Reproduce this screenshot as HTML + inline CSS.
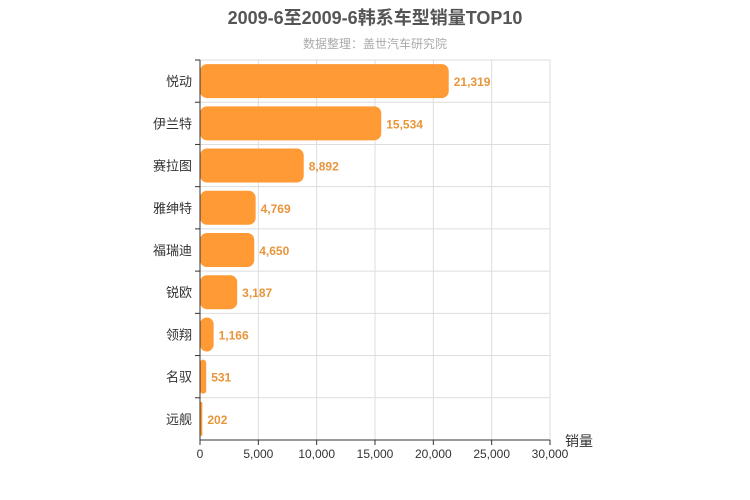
<!DOCTYPE html>
<html><head><meta charset="utf-8"><style>
body{margin:0;background:#fff;}
svg{display:block;font-family:"Liberation Sans","Noto Sans CJK SC",sans-serif;}
</style></head><body>
<svg id="chart" width="750" height="500">
<text x="375" y="24" text-anchor="middle" font-size="18" font-weight="bold" fill="#555">2009-6至2009-6韩系车型销量TOP10</text>
<text x="375" y="48" text-anchor="middle" font-size="12" fill="#aaa">数据整理：盖世汽车研究院</text>
<g id="grid"></g><g id="bars"></g><g id="axes"></g>
<text x="565" y="446" font-size="14" fill="#333">销量</text>
</svg>
<script>
const categories=["悦动","伊兰特","赛拉图","雅绅特","福瑞迪","锐欧","领翔","名驭","远舰"];
const values=[21319,15534,8892,4769,4650,3187,1166,531,202];
const ticks=[0,5000,10000,15000,20000,25000,30000];
const NS="http://www.w3.org/2000/svg";
const L=200,R=550,T=60,B=440,maxV=30000;
const x=v=>L+v/maxV*(R-L);
const band=(B-T)/categories.length;
const y=i=>T+i*band;
function mk(tag,attrs,parent,text){const e=document.createElementNS(NS,tag);for(const k in attrs)e.setAttribute(k,attrs[k]);if(text!==undefined)e.textContent=text;document.getElementById(parent).appendChild(e);return e;}
ticks.forEach(t=>{
 const g=mk('line',{x1:x(t),x2:x(t),y1:T,y2:B,stroke:'#ddd'},'grid');
 
 
 const tk=mk('line',{x1:x(t),x2:x(t),y1:B,y2:B+5,stroke:'#333'},'axes');
 
 
 const lb=mk('text',{x:x(t),y:B+18,'text-anchor':'middle','font-size':12,fill:'#333'},'axes',t.toLocaleString('en-US'));
 
 
});
for(let i=0;i<=categories.length;i++){
 const g=mk('line',{x1:L,x2:R,y1:y(i),y2:y(i),stroke:'#ddd'},'grid');
 
 
}
categories.forEach((c,i)=>{
 const v=values[i],yy=y(i)+band/2;
 const r=mk('rect',{x:L,y:yy-17,width:Math.max(x(v)-L,1),height:34,rx:Math.min(7,(x(v)-L)/2),fill:'#ff9a34'},'bars');
 
 
 const vl=mk('text',{x:x(v)+5,y:yy+5,'font-size':12,fill:'#e8953a','font-weight':'bold'},'bars',v.toLocaleString('en-US'));
 
 
 const cl=mk('text',{x:L-8,y:yy+5,'text-anchor':'end','font-size':13,fill:'#333'},'axes',c);
 
 
 const tk=mk('line',{x1:L-5,x2:L,y1:y(i),y2:y(i),stroke:'#333'},'axes');
 
 
});
const ya=mk('line',{x1:L,x2:L,y1:T,y2:B,stroke:'#333'},'axes');


const xa=mk('line',{x1:L,x2:R,y1:B,y2:B,stroke:'#333'},'axes');


</script>
</body></html>
